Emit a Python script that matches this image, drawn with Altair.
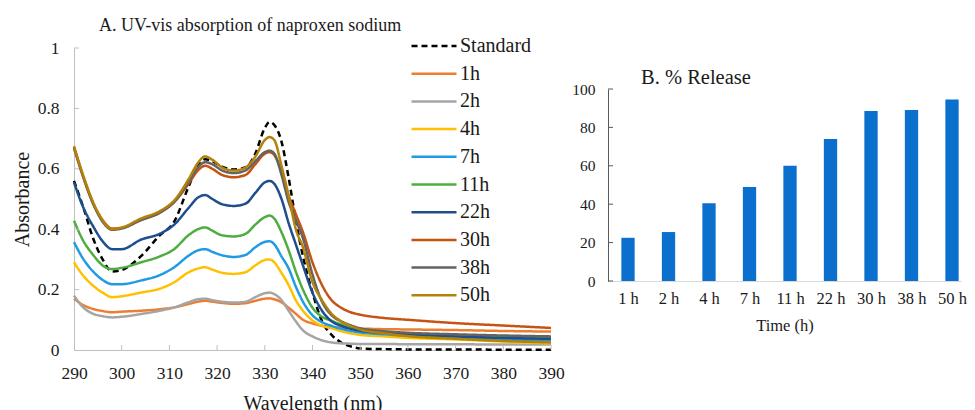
import json
import altair as alt
import pandas as pd

FONT = "Liberation Serif"

# ---------------- Panel A data ----------------
wavelength = [290, 292, 294, 296, 298, 300, 304, 308, 311, 314, 316, 317.5, 319, 321, 323.5,
              326, 328, 330, 331, 332, 333.5, 335, 336.5, 338, 340, 342, 344, 346, 348, 350,
              355, 360, 370, 380, 390]

series_names = ["Standard", "1h", "2h", "4h", "7h", "11h", "22h", "30h", "38h", "50h"]
series_colors = ["#000000", "#ED7D31", "#A5A5A5", "#FFC000", "#1F9BE3", "#4DAE3F",
                 "#1F4E8C", "#C65312", "#636363", "#B38209"]

abs_standard = [0.56, 0.47, 0.37, 0.30, 0.26, 0.265, 0.31, 0.38, 0.425, 0.54, 0.61, 0.632, 0.625, 0.607, 0.598,
                0.605, 0.65, 0.735, 0.755, 0.745, 0.69, 0.57, 0.43, 0.31, 0.19, 0.095, 0.05, 0.025, 0.012, 0.005,
                0.003, 0.002, 0.002, 0.001, 0.001]
abs_1h = [0.17, 0.148, 0.136, 0.129, 0.125, 0.127, 0.13, 0.135, 0.141, 0.152, 0.16, 0.163, 0.16, 0.156, 0.153,
          0.155, 0.163, 0.17, 0.171, 0.168, 0.158, 0.14, 0.12, 0.1, 0.088, 0.08, 0.076, 0.074, 0.072, 0.071,
          0.069, 0.068, 0.066, 0.063, 0.061]
abs_2h = [0.18, 0.14, 0.12, 0.112, 0.108, 0.11, 0.119, 0.13, 0.141, 0.158, 0.168, 0.17, 0.165, 0.16, 0.157,
          0.16, 0.175, 0.188, 0.19, 0.185, 0.165, 0.13, 0.095, 0.065, 0.045, 0.032, 0.025, 0.022, 0.021, 0.02,
          0.02, 0.019, 0.019, 0.018, 0.018]
abs_4h = [0.29, 0.245, 0.213, 0.19, 0.175, 0.178, 0.19, 0.203, 0.224, 0.257, 0.27, 0.274, 0.266, 0.256, 0.252,
          0.258, 0.28, 0.298, 0.3, 0.29, 0.255, 0.215, 0.165, 0.13, 0.098, 0.08, 0.072, 0.062, 0.055, 0.05,
          0.045, 0.04, 0.035, 0.028, 0.022]
abs_7h = [0.357, 0.3, 0.26, 0.232, 0.218, 0.218, 0.23, 0.248, 0.274, 0.312, 0.33, 0.334, 0.325, 0.314, 0.308,
          0.315, 0.34, 0.358, 0.36, 0.35, 0.31, 0.27, 0.21, 0.16, 0.115, 0.092, 0.08, 0.07, 0.063, 0.058,
          0.052, 0.047, 0.042, 0.036, 0.031]
abs_11h = [0.428, 0.36, 0.315, 0.28, 0.268, 0.272, 0.29, 0.31, 0.334, 0.38, 0.4, 0.406, 0.395, 0.38, 0.376,
           0.385, 0.415, 0.44, 0.445, 0.435, 0.39, 0.33, 0.26, 0.2, 0.14, 0.11, 0.097, 0.085, 0.074, 0.066,
           0.058, 0.052, 0.047, 0.043, 0.039]
abs_22h = [0.555, 0.47, 0.41, 0.36, 0.334, 0.334, 0.365, 0.385, 0.415, 0.47, 0.505, 0.513, 0.5, 0.483, 0.477,
           0.485, 0.52, 0.555, 0.56, 0.55, 0.5, 0.42, 0.35, 0.28, 0.19, 0.13, 0.095, 0.08, 0.07, 0.064,
           0.056, 0.052, 0.045, 0.04, 0.037]
abs_30h = [0.67, 0.57, 0.485, 0.43, 0.402, 0.405, 0.43, 0.455, 0.49, 0.55, 0.595, 0.61, 0.6, 0.58, 0.572,
           0.58, 0.615, 0.65, 0.655, 0.645, 0.59, 0.51, 0.45, 0.39, 0.29, 0.215, 0.165, 0.14, 0.125, 0.117,
           0.106, 0.1, 0.089, 0.081, 0.073]
abs_38h = [0.67, 0.57, 0.485, 0.425, 0.398, 0.402, 0.43, 0.455, 0.49, 0.555, 0.605, 0.622, 0.615, 0.595, 0.586,
           0.595, 0.625, 0.655, 0.66, 0.65, 0.58, 0.49, 0.43, 0.37, 0.25, 0.16, 0.115, 0.095, 0.082, 0.072,
           0.062, 0.057, 0.052, 0.048, 0.045]
abs_50h = [0.675, 0.575, 0.49, 0.43, 0.40, 0.405, 0.435, 0.46, 0.495, 0.565, 0.62, 0.641, 0.63, 0.605, 0.594,
           0.605, 0.64, 0.695, 0.705, 0.695, 0.61, 0.51, 0.40, 0.34, 0.225, 0.165, 0.12, 0.095, 0.08, 0.068,
           0.055, 0.046, 0.037, 0.03, 0.025]

series_values = [abs_standard, abs_1h, abs_2h, abs_4h, abs_7h, abs_11h, abs_22h, abs_30h, abs_38h, abs_50h]
series_dashes = [[6, 4]] + [[1, 0]] * 9

x_tick_values = [300, 310, 320, 330, 340, 350, 360, 370, 380, 390]
y_tick_values = [0.2, 0.4, 0.6, 0.8, 1.0]

# ---------------- Panel B data ----------------
time_labels = ["1 h", "2 h", "4 h", "7 h", "11 h", "22 h", "30 h", "38 h", "50 h"]
release_pct = [22.5, 25.5, 40.5, 49, 60, 74, 88.5, 89, 94.5]
release_ticks = [0, 20, 40, 60, 80, 100]

# ---------------- Build tables ----------------
rows = []
for k, (name, vals) in enumerate(zip(series_names, series_values)):
    for w, v in zip(wavelength, vals):
        rows.append({"Wavelength": w, "Absorbance": v, "Series": name, "k": k})
spec_df = pd.DataFrame(rows)
bar_df = pd.DataFrame({"idx": list(range(len(time_labels))), "Time": time_labels, "Release": release_pct})

TXT = "#1a1a1a"
LW, LH = 477, 302
RW, RH = 353, 192

legend_common = dict(
    title=None, orient="none", legendX=350, legendY=-12,
    labelFont=FONT, labelFontSize=20, labelColor=TXT, labelOffset=16,
    symbolType="M-4.5,0L4.5,0", symbolSize=100, symbolStrokeWidth=2.5,
    rowPadding=7.7, padding=0,
)

x_axis_a = alt.Axis(values=list(range(290, 391, 10)), title="Wavelength (nm)", ticks=False, labelFlush=False,
                    domainColor="#BFBFBF", labelFont=FONT, labelFontSize=17.5, labelColor=TXT,
                    labelPadding=14.5, titleFont=FONT, titleFontSize=20, titleFontWeight="normal",
                    titleColor=TXT, titlePadding=11, grid=False)
y_axis_a = alt.Axis(values=[0, 0.2, 0.4, 0.6, 0.8, 1.0], format=".1~f", title="Absorbance", ticks=False,
                    labelFlush=False, domainColor="#BFBFBF", labelFont=FONT, labelFontSize=17.5,
                    labelColor=TXT, labelPadding=15, titleFont=FONT, titleFontSize=20,
                    titleFontWeight="normal", titleColor=TXT, titlePadding=5, grid=False)
x_scale_a = alt.Scale(domain=[290, 390], nice=False, zero=False, padding=0)
y_scale_a = alt.Scale(domain=[0, 1], nice=False, padding=0)

lines = alt.Chart(spec_df).mark_line(strokeWidth=2.5, interpolate="monotone").encode(
    x=alt.X("Wavelength:Q", scale=x_scale_a, axis=x_axis_a),
    y=alt.Y("Absorbance:Q", scale=y_scale_a, axis=y_axis_a),
    color=alt.Color("Series:N", scale=alt.Scale(domain=series_names, range=series_colors),
                    legend=alt.Legend(**legend_common)),
    strokeDash=alt.StrokeDash("Series:N", scale=alt.Scale(domain=series_names, range=series_dashes),
                              legend=alt.Legend(**legend_common)),
    order=alt.Order("k:Q"),
)

xt_df = pd.DataFrame({"Wavelength": x_tick_values})
yt_df = pd.DataFrame({"Absorbance": y_tick_values})
xticks_a = alt.Chart(xt_df).mark_rule(color="#BFBFBF", strokeWidth=1).encode(
    x=alt.X("Wavelength:Q", scale=x_scale_a, axis=x_axis_a), y=alt.value(LH), y2=alt.value(LH - 5))
yticks_a = alt.Chart(yt_df).mark_rule(color="#BFBFBF", strokeWidth=1).encode(
    y=alt.Y("Absorbance:Q", scale=y_scale_a, axis=y_axis_a), x=alt.value(0), x2=alt.value(5))

panel_a = alt.layer(lines, xticks_a, yticks_a).properties(
    width=LW, height=LH,
    title=alt.TitleParams("A. UV-vis absorption of naproxen sodium", font=FONT, fontSize=18,
                          fontWeight="normal", color=TXT, anchor="start", frame="group", dx=25, offset=4),
)

# Panel B: bars on an index scale so that their spacing matches the reference
label_expr = json.dumps(time_labels) + "[datum.value]"
x_axis_b = alt.Axis(values=list(range(len(time_labels))), labelExpr=label_expr, title="Time (h)",
                    labelAngle=0, ticks=False, labelFlush=False, domainColor="#D9D9D9", grid=False,
                    labelFont=FONT, labelFontSize=16.5, labelColor=TXT, labelPadding=9,
                    titleFont=FONT, titleFontSize=16.5, titleFontWeight="normal", titleColor=TXT,
                    titlePadding=11)
x_scale_b = alt.Scale(domain=[-0.494, 8.222], nice=False, zero=False, padding=0)
y_axis_b = alt.Axis(values=release_ticks, title=None, ticks=False, labelFlush=False, domainColor="#595959",
                    grid=False, labelFont=FONT, labelFontSize=15.5, labelColor=TXT, labelPadding=13)
y_scale_b = alt.Scale(domain=[0, 100], nice=False, padding=0)

bars = alt.Chart(bar_df).mark_bar(color="#0B6FCE", width=13.3).encode(
    x=alt.X("idx:Q", scale=x_scale_b, axis=x_axis_b),
    y=alt.Y("Release:Q", scale=y_scale_b, axis=y_axis_b),
)
rt_df = pd.DataFrame({"Release": release_ticks})
yticks_b = alt.Chart(rt_df).mark_rule(color="#595959", strokeWidth=1).encode(
    y=alt.Y("Release:Q", scale=y_scale_b, axis=y_axis_b), x=alt.value(0), x2=alt.value(5))

panel_b = alt.layer(bars, yticks_b).properties(
    width=RW, height=RH,
    title=alt.TitleParams("B. % Release", font=FONT, fontSize=20.5, fontWeight="normal", color=TXT,
                          anchor="start", frame="group", dx=33, dy=8, offset=2),
)

spacer = alt.Chart(pd.DataFrame({"s": [""]})).mark_text().encode(
    text="s:N", x=alt.value(0), y=alt.value(0)).properties(
    width=10, height=18, view=alt.ViewBackground(stroke="transparent", fill="transparent"))

right_col = alt.vconcat(spacer, panel_b, spacing=0)

chart = (
    alt.hconcat(panel_a, right_col, spacing=6)
    .properties(padding={"left": 4, "top": 9, "right": 0, "bottom": 0})
    .configure(background="white", font=FONT)
    .configure_view(stroke=None)
    .configure_axis(labelFont=FONT, titleFont=FONT)
    .configure_legend(labelFont=FONT)
    .configure_title(font=FONT)
)

chart.save("out.html", embed_options={"renderer": "svg", "actions": False})
